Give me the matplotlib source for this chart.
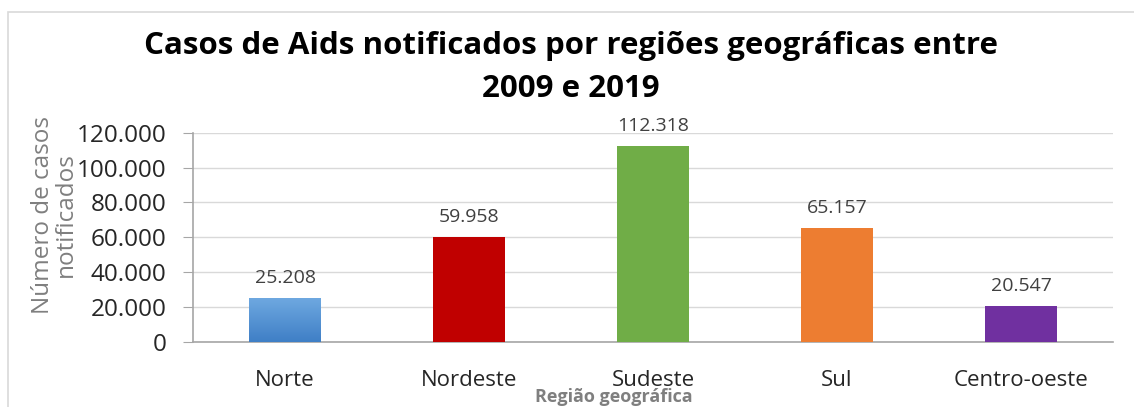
import numpy as np
import matplotlib.pyplot as plt
from matplotlib.patches import Rectangle
from matplotlib.colors import LinearSegmentedColormap

regioes = ["Norte", "Nordeste", "Sudeste", "Sul", "Centro-oeste"]
casos = [25208, 59958, 112318, 65157, 20547]
rotulos = ["25.208", "59.958", "112.318", "65.157", "20.547"]
yticks = [0, 20000, 40000, 60000, 80000, 100000, 120000]
ytick_labels = ["0", "20.000", "40.000", "60.000", "80.000", "100.000", "120.000"]
cores = ["#5B9BD5", "#C00000", "#70AD47", "#ED7D31", "#7030A0"]

plt.rcParams['font.family'] = ['Open Sans', 'DejaVu Sans']

fig = plt.figure(figsize=(11.34, 4.07), dpi=100)
ax = fig.add_axes([0.1702, 0.1597, 0.8113, 0.5143])

# moldura do gráfico
fig.patches.append(Rectangle((0.007, -0.1), 1.2, 1.071, transform=fig.transFigure,
                             fill=False, edgecolor="#d9d9d9", linewidth=1.2))

x = np.arange(len(regioes))
barras = ax.bar(x, casos, width=0.39, color=cores, zorder=3)

# degradê na barra Norte
grad = LinearSegmentedColormap.from_list("g", ["#3F7FC6", "#6EA8E0"])
b = barras[0]
b.set_facecolor("none")
ax.imshow(np.linspace(0, 1, 100).reshape(-1, 1), cmap=grad, aspect="auto",
          origin="lower", extent=[b.get_x(), b.get_x() + b.get_width(), 0, b.get_height()],
          zorder=3)

for xi, v, r in zip(x, casos, rotulos):
    ax.text(xi, v + 6500, r, ha="center", va="bottom", fontsize=14, color="#404040")

ax.set_xlim(-0.5, 4.5)
ax.set_ylim(0, 120000)
ax.set_yticks(yticks)
ax.set_yticklabels(ytick_labels, fontsize=17.5, color="#262626")
ax.set_xticks(x)
ax.set_xticklabels(regioes, fontsize=16, color="#262626")
ax.tick_params(axis="x", length=0, pad=20)
ax.tick_params(axis="y", length=7, color="#a6a6a6", pad=12)

ax.grid(axis="y", color="#d9d9d9", linewidth=1, zorder=0)
for s in ["top", "right"]:
    ax.spines[s].set_visible(False)
for s in ["left", "bottom"]:
    ax.spines[s].set_color("#a6a6a6")
    ax.spines[s].set_linewidth(1.2)

fig.text(0.5035, 0.834, "Casos de Aids notificados por regiões geográficas entre\n2009 e 2019",
         ha="center", va="center", fontsize=22.5, fontweight="bold", linespacing=1.55)

fig.text(0.048, 0.472, "Número de casos\nnotificados", rotation=90, ha="center", va="center",
         fontsize=17.5, color="#7f7f7f", linespacing=0.98)

fig.text(0.5415, 0.025, "Região geográfica", ha="center", va="center",
         fontsize=13, fontweight="bold", color="#7f7f7f")

fig.savefig("out.png", dpi=100)
